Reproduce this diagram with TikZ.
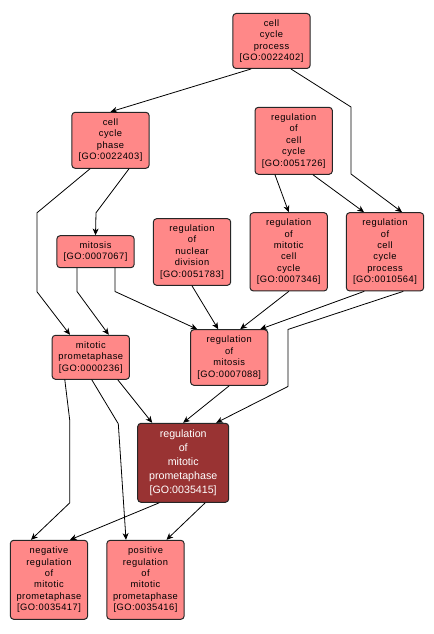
\documentclass[tikz,border=0pt]{standalone}
\usepackage{fontspec}
\setmainfont{Liberation Sans}
\newfontfamily\gofont[LetterSpace=5]{Liberation Sans}
\usetikzlibrary{calc,arrows.meta}
\definecolor{goterm}{RGB}{255,136,136}
\definecolor{goquery}{RGB}{153,51,51}

\begin{document}
\begin{tikzpicture}[x=0.75pt,y=-0.75pt,line cap=round,line join=round,
    term/.style={draw=black!85,line width=0.75pt,fill=goterm,rounded corners=2.5pt,
      align=center,inner sep=0pt,minimum width=58pt,
      font=\gofont\fontsize{7}{8.6}\selectfont},
    query/.style={term,fill=goquery,text=white,minimum width=68.25pt,
      font=\fontsize{8}{10.5}\selectfont},
    edge/.style={line width=0.6pt,-{Stealth[length=5pt,width=4.5pt,inset=1.5pt]}}]
  \useasboundingbox (0,0) rectangle (434,634);
  \node[term,minimum height=41.25pt] (ccp) at (271.5,41) {cell\\cycle\\process\\{[GO:0022402]}};
  \node[term,minimum height=42pt] (ccph) at (110.5,140.3) {cell\\cycle\\phase\\{[GO:0022403]}};
  \node[term,minimum height=50.25pt] (rcc) at (293.7,140.8) {regulation\\of\\cell\\cycle\\{[GO:0051726]}};
  \node[term,minimum height=24pt] (mit) at (95.5,251.7) {mitosis\\{[GO:0007067]}};
  \node[term,minimum height=50pt] (rnd) at (192,252) {regulation\\of\\nuclear\\division\\{[GO:0051783]}};
  \node[term,minimum height=58.7pt] (rmcc) at (288.7,251.8) {regulation\\of\\mitotic\\cell\\cycle\\{[GO:0007346]}};
  \node[term,minimum height=58.7pt] (rccp) at (385,251.8) {regulation\\of\\cell\\cycle\\process\\{[GO:0010564]}};
  \node[term,minimum height=33pt] (mp) at (90.8,357.3) {mitotic\\prometaphase\\{[GO:0000236]}};
  \node[term,minimum height=41.7pt] (rm) at (229.2,357.5) {regulation\\of\\mitosis\\{[GO:0007088]}};
  \node[query,minimum height=59.25pt] (rmp) at (183.2,462.8) {regulation\\of\\mitotic\\prometaphase\\{[GO:0035415]}};
  \node[term,minimum height=59.25pt] (neg) at (49,579.8) {negative\\regulation\\of\\mitotic\\prometaphase\\{[GO:0035417]}};
  \node[term,minimum height=59.25pt] (pos) at (145.5,579.8) {positive\\regulation\\of\\mitotic\\prometaphase\\{[GO:0035416]}};

  \draw[edge] ($(ccp.south)+(-20.5,0)$) -- (ccph.north);
  \draw[edge] ($(ccp.south)+(19.5,0)$) -- ++(60,38) -- ++(0,67) -- ($(rccp.north)+(17,0)$);
  \draw[edge] ($(rcc.south)+(-18.7,0)$) -- (rmcc.north);
  \draw[edge] ($(rcc.south)+(19.3,0)$) -- ($(rccp.north)+(-21,0)$);
  \draw[edge] ($(ccph.south)+(18.5,0)$) -- ++(-33,44) -- (mit.north);
  \draw[edge] ($(ccph.south)+(-20.5,0)$) -- ++(-53,44) -- ++(0,79) -- ($(mp.north)+(-20.8,0)$);
  \draw[edge] ($(mit.south)+(-18.5,0)$) -- ++(0,23.3) -- ($(mp.north)+(18,0)$);
  \draw[edge] ($(mit.south)+(19.5,0)$) -- ++(0,23.3) -- ($(rm.north)+(-32,0)$);
  \draw[edge] (rnd.south) -- ($(rm.north)+(-11,0)$);
  \draw[edge] (rmcc.south) -- ($(rm.north)+(11,0)$);
  \draw[edge] ($(rccp.south)+(-21,0)$) -- ($(rm.north)+(31,0)$);
  \draw[edge] ($(rccp.south)+(18,0)$) -- ++(-115,38) -- ++(0,57) -- ($(rmp.north)+(33,0)$);
  \draw[edge] ($(mp.south)+(27,0)$) -- ($(rmp.north)+(-31,0)$);
  \draw[edge] (rm.south) -- (rmp.north);
  \draw[edge] ($(mp.south)+(-26,0)$) -- ++(5,41) -- ++(0,82) -- ($(neg.north)+(-18,0)$);
  \draw[edge] ($(mp.south)+(1,0)$) -- ++(26.5,44) -- ($(pos.north)+(-19.5,0)$);
  \draw[edge] ($(rmp.south)+(-24,0)$) -- ($(neg.north)+(21,0)$);
  \draw[edge] ($(rmp.south)+(22,0)$) -- ($(pos.north)+(21,0)$);
\end{tikzpicture}
\end{document}
